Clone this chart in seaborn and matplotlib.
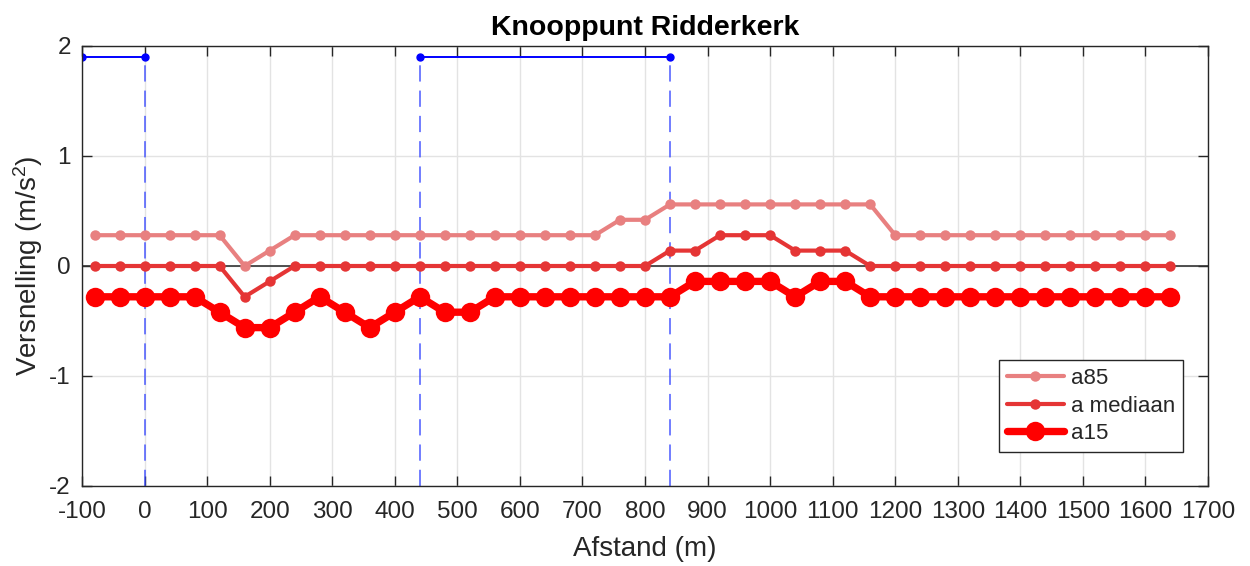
import numpy as np
import pandas as pd
import matplotlib
matplotlib.use("Agg")
import matplotlib.pyplot as plt
import seaborn as sns

sns.set_theme(style="whitegrid")
plt.rcParams['font.family'] = ['Liberation Sans', 'DejaVu Sans']
plt.rcParams['mathtext.fontset'] = 'custom'
plt.rcParams['mathtext.rm'] = 'Liberation Sans'
plt.rcParams['mathtext.it'] = 'Liberation Sans'

# Data
afstand = list(range(-80, 1641, 40))
a85 = ([0.28, 0.28, 0.28, 0.28, 0.28, 0.28, 0.0, 0.14]
       + [0.28] * 13
       + [0.42, 0.42]
       + [0.56] * 9
       + [0.28] * 12)
a_mediaan = ([0.0, 0.0, 0.0, 0.0, 0.0, 0.0, -0.28, -0.14]
             + [0.0] * 15
             + [0.14, 0.14, 0.28, 0.28, 0.28, 0.14, 0.14, 0.14]
             + [0.0] * 13)
a15 = ([-0.28, -0.28, -0.28, -0.28, -0.28, -0.42, -0.56, -0.56, -0.42, -0.28, -0.42,
        -0.56, -0.42, -0.28, -0.42, -0.42]
       + [-0.28] * 8
       + [-0.14, -0.14, -0.14, -0.14, -0.28, -0.14, -0.14]
       + [-0.28] * 13)
segments = [(-100, 0), (440, 840)]
segment_y = 1.9
x_ticks = list(range(-100, 1701, 100))
y_ticks = [-2, -1, 0, 1, 2]

L, R, T, B = 82, 1208, 46, 486
fig = plt.figure(figsize=(12.5, 5.66), dpi=100)
ax = fig.add_axes([L/1250, 1 - B/566, (R-L)/1250, (B-T)/566])

ax.axhline(0, color='#333333', lw=1.2, zorder=1)

sns.lineplot(x=afstand, y=a85, ax=ax, color='#E88080', lw=3.0, marker='o',
             markersize=7.5, markeredgewidth=0, label='a85', zorder=3)
sns.lineplot(x=afstand, y=a_mediaan, ax=ax, color='#E53535', lw=3.0, marker='o',
             markersize=7.5, markeredgewidth=0, label='a mediaan', zorder=4)
sns.lineplot(x=afstand, y=a15, ax=ax, color='#FF0000', lw=5.3, marker='o',
             markersize=14, markeredgewidth=0, label='a15', zorder=5)

for (x0, x1) in segments:
    for xv in (x0, x1):
        ax.plot([xv, xv], [-2, segment_y], color='#3344FF', lw=1.3, ls=(0, (9, 5)),
                alpha=0.75, zorder=2)
    ax.plot([x0, x1], [segment_y, segment_y], color='#0000FF', lw=1.4,
            marker='o', markersize=5, zorder=2)

ax.set_xlim(-100, 1700)
ax.set_ylim(-2, 2)
ax.set_xticks(x_ticks)
ax.set_yticks(y_ticks)
ax.set_xticklabels([str(v) for v in x_ticks])
ax.set_yticklabels([str(v) for v in y_ticks])
ax.grid(True, color='#E3E3E3', lw=1.0)
ax.set_facecolor('white')
for s in ax.spines.values():
    s.set_visible(True)
    s.set_color('#262626')
    s.set_linewidth(1.0)
ax.tick_params(direction='in', length=7, width=1, colors='#262626',
               labelsize=17.5, top=True, right=True, bottom=True, left=True, pad=8)
ax.tick_params(axis='x', pad=11)

ax.set_title('Knooppunt Ridderkerk', fontsize=20.5, fontweight='bold', color='black', pad=8)
ax.set_xlabel('Afstand (m)', fontsize=20, color='#262626', labelpad=9)
ax.set_ylabel('Versnelling (m/s$^2$)', fontsize=20, color='#262626', labelpad=3)

leg = ax.legend(loc='lower right', bbox_to_anchor=((1183-L)/(R-L), (B-452)/(B-T)),
                borderaxespad=0, fontsize=16, frameon=True, fancybox=False,
                edgecolor='#262626', framealpha=1,
                handlelength=2.6, borderpad=0.35, labelspacing=0.3, handletextpad=0.3)
leg.get_frame().set_linewidth(1.0)

fig.savefig('out.png', dpi=100)
